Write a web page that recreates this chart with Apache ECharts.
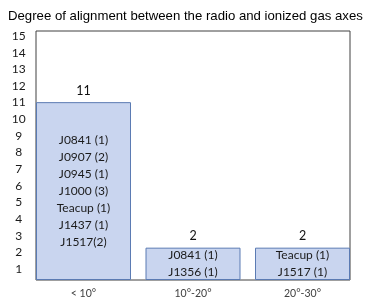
<!DOCTYPE html>
<html><head><meta charset="utf-8">
<script src="https://cdn.jsdelivr.net/npm/echarts@6/dist/echarts.min.js"></script>
<style>html,body{margin:0;padding:0;background:#fff}#c{width:374px;height:305px}</style>
</head><body><div id="c"></div>
<script>
var categories = ['< 10°', '10°-20°', '20°-30°'];
var counts = [11, 2, 2];
var names1 = ['J0841 (1)', 'J0907 (2)', 'J0945 (1)', 'J1000 (3)', 'Teacup (1)', 'J1437 (1)', 'J1517(2)'];
var names2 = ['J0841 (1)', 'J1356 (1)'];
var names3 = ['Teacup (1)', 'J1517 (1)'];
var groupNames = [names1, names2, names3];
var yTickMax = 15;
var titleText = 'Degree of alignment between the radio and ionized gas axes';

var chart = echarts.init(document.getElementById('c'), null, {renderer: 'canvas'});
var option = {
  animation: false,
  title: {
    text: titleText, left: 3, top: 5,
    textStyle: {fontFamily: 'Liberation Sans', fontSize: 13.2, fontWeight: 'normal', color: '#000'}
  },
  grid: [
    {left: 28.75, width: 328.5, top: 31, bottom: 25, containLabel: false},
    {left: 36, right: 24, top: 36, bottom: 19.4, containLabel: false},
    {left: 36, right: 24, top: 31, bottom: 25, show: true, borderColor: '#404040', borderWidth: 1, backgroundColor: 'transparent', z: 0}
  ],
  xAxis: [
    {type: 'category', gridIndex: 0, data: categories,
     axisLine: {show: false}, axisTick: {show: false},
     axisLabel: {margin: 8, fontFamily: 'Lato', fontSize: 10.5, color: '#404040'}},
    {type: 'value', gridIndex: 1, show: false},
    {type: 'value', gridIndex: 2, show: false}
  ],
  yAxis: [
    {type: 'value', gridIndex: 0, min: 0, max: 15.4, show: false},
    {type: 'value', gridIndex: 1, min: 0, max: yTickMax, interval: 1,
     axisLine: {show: false}, axisTick: {show: false}, splitLine: {show: false},
     axisLabel: {margin: 17.3, align: 'center', fontFamily: 'Lato', fontSize: 12, color: '#1a1a1a',
       formatter: function (v) { return v === 0 ? '' : String(v); }}},
    {type: 'value', gridIndex: 2, show: false}
  ],
  series: [
    {type: 'bar', xAxisIndex: 0, yAxisIndex: 0, data: counts, barWidth: 95, z: 3,
     itemStyle: {color: '#c9d5ef', borderColor: '#5b7bb3', borderWidth: 1},
     label: {show: true, position: 'top', distance: 5, formatter: '{c}',
       fontFamily: 'Lato', fontSize: 12.5, color: '#111'}},
    {type: 'bar', xAxisIndex: 0, yAxisIndex: 0, data: counts, barWidth: 95, barGap: '-100%', z: 4, silent: true,
     itemStyle: {color: 'rgba(0,0,0,0)'},
     label: {show: true, position: 'inside', lineHeight: 17,
       fontFamily: 'Lato', fontSize: 12, color: '#1a1a1a',
       formatter: function (p) { return groupNames[p.dataIndex].join('\n'); }}}
  ]
};
chart.setOption(option);
</script>
</body></html>
